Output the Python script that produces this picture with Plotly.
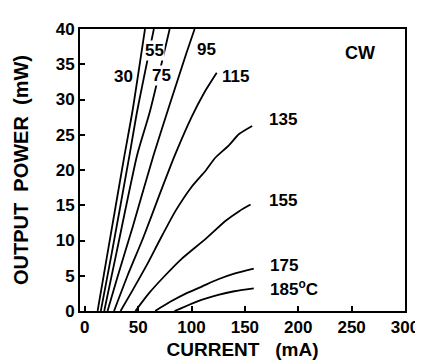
import plotly.graph_objects as go

# Temperatures (deg C) and L-I curves: current (mA) vs output power (mW)
temps = ["30", "55", "75", "95", "115", "135", "155", "175", "185"]

i_30 = [12, 22, 37.2, 44.6, 56.4]
p_30 = [0, 8.8, 22.1, 28.3, 40]

i_55 = [15, 25, 41.9, 49, 64.7]
p_55 = [0, 8, 22.1, 28.3, 40]

i_75 = [18.2, 30, 49, 61, 79.5]
p_75 = [0, 8.5, 22.1, 28.3, 40]

i_95 = [21.3, 30, 45, 64.4, 80, 95, 102.9]
p_95 = [0, 4.5, 12, 22.1, 29.5, 36.5, 40]

i_115 = [27.4, 40, 55, 70, 84.4, 100, 112, 123.6]
p_115 = [0, 5, 10.5, 16.5, 22.1, 27.5, 31, 33.8]

i_135 = [33.5, 45, 58, 70, 85, 100, 113.7, 122, 135, 144.5, 156.8]
p_135 = [0, 3, 6.5, 10, 14.2, 17.6, 20, 21.7, 23.5, 25.1, 26.25]

i_155 = [47.4, 60, 75, 90, 113.7, 132, 145, 155.3]
p_155 = [0, 2.5, 5.0, 7.3, 10.3, 12.8, 14.2, 15.1]

i_175 = [65.9, 80, 95, 110, 125, 140, 158.3]
p_175 = [0, 1.3, 2.5, 3.5, 4.5, 5.3, 6.0]

i_185 = [84, 95, 110, 125, 140, 158.3]
p_185 = [0, 0.7, 1.6, 2.3, 2.8, 3.2]

curves = [(i_30, p_30), (i_55, p_55), (i_75, p_75), (i_95, p_95), (i_115, p_115),
          (i_135, p_135), (i_155, p_155), (i_175, p_175), (i_185, p_185)]

# label positions (current, power) and text
label_text = ["30", "55", "75", "95", "115", "135", "155", "175", "185<sup>o</sup>C", "CW"]
label_i = [36.7, 65.6, 71.6, 113.7, 141.4, 185.3, 185.3, 186.7, 196, 257.9]
label_p = [33.3, 37.0, 33.4, 37.1, 33.3, 27.1, 15.7, 6.5, 3.25, 36.6]
label_size = [17, 17, 17, 17, 17, 17, 17, 17, 17, 18]
label_bg = [False, True, True, False, False, False, False, False, False, False]

x_ticks = [0, 50, 100, 150, 200, 250, 300]
y_ticks = [0, 5, 10, 15, 20, 25, 30, 35, 40]

FONT = "Liberation Sans"

fig = go.Figure()
for (xs, ys), t in zip(curves, temps):
    fig.add_trace(go.Scatter(x=xs, y=ys, mode="lines", name=t,
                             line=dict(color="black", width=1.8, shape="spline", smoothing=0.6),
                             showlegend=False, cliponaxis=True))

for txt, xi, yi, sz, bg in zip(label_text, label_i, label_p, label_size, label_bg):
    fig.add_annotation(x=xi, y=yi, text=txt, showarrow=False, xanchor="center", yanchor="middle",
                       font=dict(family=FONT, size=sz, color="black", weight="bold"),
                       bgcolor="white" if bg else "rgba(0,0,0,0)", borderpad=0)

axis_common = dict(showgrid=False, zeroline=False, showline=True, linecolor="black", linewidth=1.8,
                   mirror=True, ticks="inside", ticklen=5, tickwidth=1.5, tickcolor="black",
                   tickfont=dict(family=FONT, size=17, color="black", weight="bold"))

fig.update_xaxes(range=[-4.5, 300], tickvals=x_ticks, ticktext=[str(v) for v in x_ticks],
                 title=dict(text="CURRENT\u00a0\u00a0\u00a0(mA)", standoff=6,
                            font=dict(family=FONT, size=19, color="black", weight="bold")),
                 **axis_common)
fig.update_yaxes(range=[0, 40], tickvals=y_ticks, ticktext=[str(v) for v in y_ticks],
                 title=dict(text="OUTPUT\u00a0\u00a0POWER\u00a0\u00a0(mW)", standoff=22,
                            font=dict(family=FONT, size=20, color="black", weight="bold")),
                 **axis_common)

fig.update_layout(width=423, height=361, margin=dict(l=72, r=21, t=21, b=51),
                  paper_bgcolor="white", plot_bgcolor="white")

fig.write_html("out.html")
